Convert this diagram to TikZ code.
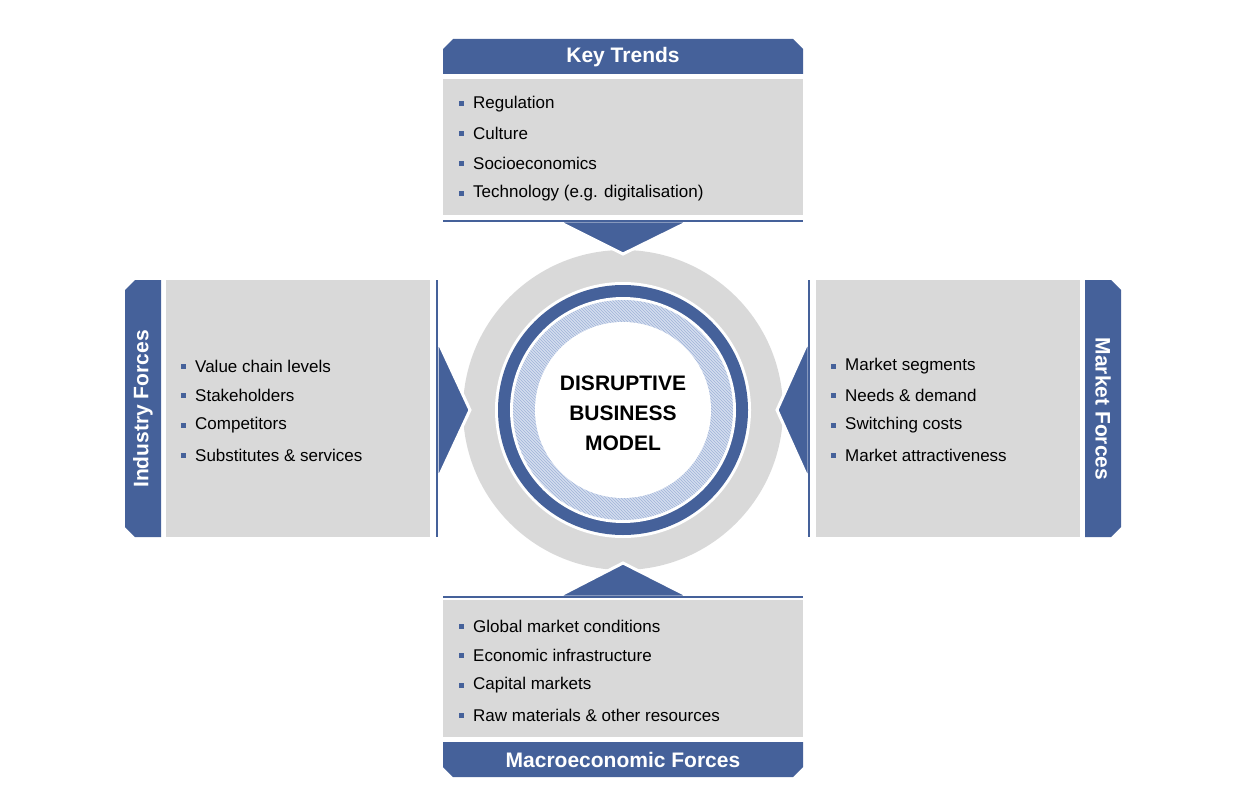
\documentclass[tikz,border=0pt]{standalone}
\usepackage{fontspec}
\setmainfont{Liberation Sans}
\usetikzlibrary{patterns}
\definecolor{bl}{HTML}{45619A}
\definecolor{gr}{HTML}{D9D9D9}
\definecolor{hb}{HTML}{9FB3D9}
\tikzset{
  hdr/.style={fill=bl,draw=none},
  txt/.style={anchor=west,font=\fontsize{17}{20}\selectfont,inner sep=0},
  htxt/.style={font=\fontsize{21}{24}\selectfont\bfseries,text=white,inner sep=0},
  bul/.style={fill=bl,minimum size=5pt,inner sep=0}
}
\newcommand{\items}[4]{% x, y, list
  \foreach \t [count=\i from 0] in {#3} {
    \node[bul] (b#4\i) at (#1,#2+29.7*\i) {};
    \node[txt] (t#4\i) at (#1+12,#2+29.7*\i) {\t};
  }}
\begin{document}
\begin{tikzpicture}[x=1pt,y=-1pt]
\useasboundingbox (0,0) rectangle (1249,810);
% circle
\fill[gr] (623,410) circle (160);
\fill[white] (623,410) circle (128);
\fill[bl] (623,410) circle (125);
\fill[white] (623,410) circle (113);
\fill[hb!45] (623,410) circle (110);
\fill[pattern=north west lines,pattern color=hb] (623,410) circle (110);
\fill[white] (623,410) circle (88);
\node[font=\fontsize{21}{30}\selectfont\bfseries,align=center] (c) at (623,413) {DISRUPTIVE\\BUSINESS\\MODEL};
% arrows
\fill[bl,draw=white,line width=3pt,line join=miter] (557,221) -- (623,254) -- (690,221) -- cycle;
\fill[bl,draw=white,line width=3pt] (557,597) -- (623,563) -- (690,597) -- cycle;
\fill[bl,draw=white,line width=3pt] (437,339) -- (470,410) -- (437,481) -- cycle;
\fill[bl,draw=white,line width=3pt] (809,339) -- (777,410) -- (809,481) -- cycle;
% top
\fill[hdr] (443,74) -- (443,49) -- (453,39) -- (793,39) -- (803,49) -- (803,74) -- cycle;
\node[htxt] (h1) at (623,57) {Key Trends};
\fill[gr] (443,79) rectangle (803,215);
\draw[bl,line width=2pt] (443,221) coordinate (l1) -- (803,221) coordinate (l2);
\items{461}{104}{Regulation,Culture,Socioeconomics,Technology (e.g. digitalisation)}{a}
% bottom
\fill[hdr] (443,742) -- (443,767) -- (453,777) -- (793,777) -- (803,767) -- (803,742) -- cycle;
\node[htxt] (h2) at (623,760) {Macroeconomic Forces};
\fill[gr] (443,600) rectangle (803,737);
\draw[bl,line width=2pt] (443,597) coordinate (l3) -- (803,597) coordinate (l4);
\items{461}{626}{Global market conditions,Economic infrastructure,Capital markets,Raw materials \& other resources}{b}
% left
\fill[hdr] (161,280) -- (135,280) -- (125,290) -- (125,527) -- (135,537) -- (161,537) -- cycle;
\node[htxt,rotate=90] (h3) at (143,409) {Industry Forces};
\fill[gr] (166,280) rectangle (430,537);
\draw[bl,line width=2pt] (437,280) coordinate (l5) -- (437,537) coordinate (l6);
\items{183}{366}{Value chain levels,Stakeholders,Competitors,Substitutes \& services}{c}
% right
\fill[hdr] (1085,280) -- (1111,280) -- (1121,290) -- (1121,527) -- (1111,537) -- (1085,537) -- cycle;
\node[htxt,rotate=-90] (h4) at (1103,409) {Market Forces};
\fill[gr] (816,280) rectangle (1080,537);
\draw[bl,line width=2pt] (809,280) coordinate (l7) -- (809,537) coordinate (l8);
\items{833}{366}{Market segments,Needs \& demand,Switching costs,Market attractiveness}{d}
\end{tikzpicture}
\end{document}
